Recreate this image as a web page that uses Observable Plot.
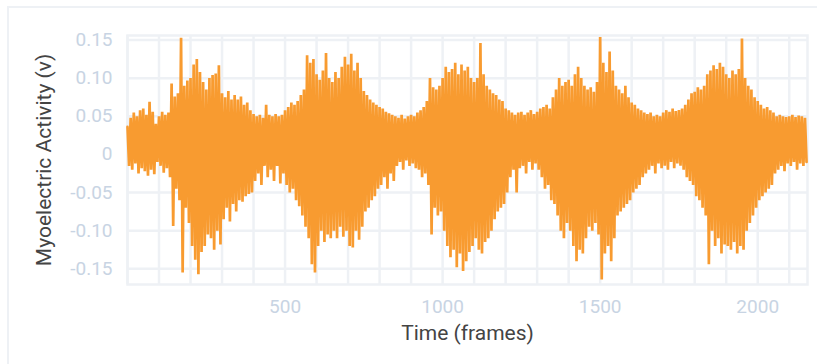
<!DOCTYPE html>
<html>
<head>
<meta charset="utf-8">
<script src="https://cdn.jsdelivr.net/npm/d3@7"></script>
<script src="https://cdn.jsdelivr.net/npm/@observablehq/plot@0.6"></script>
<style>
  html, body { margin: 0; padding: 0; background: #fff; }
  #wrap { position: relative; width: 817px; height: 364px; overflow: hidden; }
  #card { position: absolute; left: 7px; top: 6px; width: 830px; height: 380px; border: 2px solid #eef1f5; box-sizing: border-box; }
  #chart { position: absolute; left: 0; top: 0; }
</style>
</head>
<body>
<div id="wrap"><div id="card"></div><div id="chart"></div></div>
<script>
const emg = [
  0.036, -0.015, 0.048, -0.02, 0.055, -0.012, 0.05, -0.025, 0.058, -0.018,
  0.06, -0.022, 0.052, -0.028, 0.069, -0.02, 0.056, -0.026, 0.04, -0.01,
  0.05, -0.015, 0.056, -0.024, 0.052, -0.018, 0.055, -0.03, 0.093, -0.094,
  0.076, -0.045, 0.08, -0.06, 0.153, -0.155, 0.09, -0.07, 0.097, -0.09,
  0.1, -0.12, 0.118, -0.138, 0.125, -0.157, 0.108, -0.128, 0.095, -0.12,
  0.085, -0.105, 0.1, -0.11, 0.104, -0.125, 0.106, -0.1, 0.117, -0.118,
  0.08, -0.085, 0.075, -0.07, 0.083, -0.088, 0.072, -0.065, 0.078, -0.075,
  0.072, -0.06, 0.076, -0.062, 0.065, -0.055, 0.068, -0.052, 0.058, -0.05,
  0.053, -0.035, 0.05, -0.025, 0.052, -0.04, 0.048, -0.015, 0.065, -0.03,
  0.052, -0.02, 0.05, -0.035, 0.053, -0.015, 0.05, -0.038, 0.052, -0.025,
  0.058, -0.04, 0.062, -0.05, 0.068, -0.045, 0.065, -0.06, 0.07, -0.068,
  0.078, -0.08, 0.085, -0.095, 0.13, -0.11, 0.12, -0.144, 0.125, -0.155,
  0.105, -0.12, 0.098, -0.1, 0.11, -0.115, 0.133, -0.105, 0.1, -0.11,
  0.095, -0.1, 0.108, -0.11, 0.1, -0.095, 0.115, -0.108, 0.128, -0.1,
  0.118, -0.12, 0.132, -0.122, 0.11, -0.1, 0.12, -0.112, 0.1, -0.095,
  0.083, -0.075, 0.078, -0.07, 0.072, -0.06, 0.068, -0.055, 0.065, -0.045,
  0.062, -0.04, 0.06, -0.03, 0.056, -0.045, 0.054, -0.025, 0.052, -0.035,
  0.05, -0.015, 0.048, -0.01, 0.052, -0.02, 0.047, -0.008, 0.05, -0.015,
  0.052, -0.012, 0.05, -0.018, 0.055, -0.02, 0.058, -0.03, 0.062, -0.025,
  0.07, -0.04, 0.1, -0.105, 0.088, -0.07, 0.085, -0.08, 0.09, -0.075,
  0.1, -0.1, 0.115, -0.12, 0.108, -0.135, 0.112, -0.125, 0.12, -0.148,
  0.105, -0.13, 0.118, -0.153, 0.11, -0.14, 0.115, -0.128, 0.1, -0.12,
  0.095, -0.11, 0.1, -0.125, 0.146, -0.13, 0.105, -0.115, 0.09, -0.11,
  0.085, -0.1, 0.08, -0.085, 0.078, -0.075, 0.072, -0.07, 0.07, -0.065,
  0.06, -0.05, 0.058, -0.03, 0.055, -0.02, 0.052, -0.05, 0.055, -0.018,
  0.056, -0.015, 0.052, -0.025, 0.055, -0.01, 0.058, -0.02, 0.053, -0.012,
  0.056, -0.02, 0.06, -0.03, 0.062, -0.045, 0.065, -0.04, 0.06, -0.06,
  0.075, -0.065, 0.085, -0.08, 0.1, -0.1, 0.09, -0.11, 0.095, -0.09,
  0.098, -0.1, 0.09, -0.12, 0.105, -0.14, 0.115, -0.125, 0.1, -0.13,
  0.09, -0.11, 0.085, -0.095, 0.088, -0.1, 0.082, -0.09, 0.095, -0.105,
  0.154, -0.164, 0.12, -0.13, 0.108, -0.12, 0.135, -0.14, 0.11, -0.11,
  0.09, -0.08, 0.085, -0.075, 0.08, -0.07, 0.09, -0.065, 0.075, -0.06,
  0.068, -0.05, 0.065, -0.045, 0.06, -0.04, 0.058, -0.03, 0.055, -0.025,
  0.053, -0.02, 0.055, -0.015, 0.05, -0.025, 0.052, -0.012, 0.05, -0.018,
  0.055, -0.015, 0.058, -0.02, 0.056, -0.01, 0.06, -0.018, 0.057, -0.012,
  0.058, -0.015, 0.06, -0.02, 0.065, -0.03, 0.072, -0.035, 0.08, -0.04,
  0.082, -0.055, 0.088, -0.06, 0.085, -0.07, 0.09, -0.08, 0.105, -0.144,
  0.11, -0.1, 0.117, -0.12, 0.112, -0.11, 0.12, -0.13, 0.115, -0.118,
  0.105, -0.12, 0.1, -0.125, 0.11, -0.115, 0.105, -0.13, 0.112, -0.12,
  0.152, -0.125, 0.1, -0.1, 0.09, -0.09, 0.085, -0.08, 0.075, -0.07,
  0.07, -0.06, 0.065, -0.055, 0.06, -0.05, 0.062, -0.045, 0.058, -0.04,
  0.055, -0.025, 0.05, -0.02, 0.052, -0.015, 0.05, -0.022, 0.049, -0.012,
  0.05, -0.015, 0.052, -0.01, 0.049, -0.02, 0.051, -0.012, 0.05, -0.015,
  0.048, -0.01
];
const frameStep = 5;
const xTicks = [500, 1000, 1500, 2000];
const xGrid = [0, 100, 200, 300, 400, 500, 600, 700, 800, 900, 1000, 1100, 1200, 1300, 1400, 1500, 1600, 1700, 1800, 1900, 2000, 2100];
const yTicks = [-0.15, -0.10, -0.05, 0, 0.05, 0.10, 0.15];
const xDomain = [0, 2158];
const yDomain = [-0.1706, 0.1559];
const xTitle = "Time (frames)";
const yTitle = "Myoelectric Activity (v)";

const data = emg.map((v, i) => ({frame: i * frameStep, v}));
const gridColor = "#eef1f5";
const tickColor = "#c8d4e3";

const chart = Plot.plot({
  width: 817,
  height: 364,
  marginLeft: 127,
  marginRight: 10,
  marginTop: 35,
  marginBottom: 80,
  style: {fontFamily: "Roboto, sans-serif", background: "transparent"},
  x: {domain: xDomain, axis: null},
  y: {domain: yDomain, axis: null},
  marks: [
    Plot.ruleX(xGrid, {stroke: gridColor, strokeWidth: 2.5}),
    Plot.ruleY(yTicks, {stroke: gridColor, strokeWidth: 2.5}),
    Plot.frame({stroke: gridColor, strokeWidth: 2.5}),
    Plot.lineY(data, {x: "frame", y: "v", stroke: "#f89b30", strokeWidth: 2.7, strokeLinejoin: "miter", strokeMiterlimit: 1.2}),
    Plot.axisX(xTicks, {tickSize: 0, tickPadding: 15, fontSize: 19, fill: tickColor, label: null,
      tickFormat: d => String(d)}),
    Plot.axisY(yTicks, {tickSize: 0, tickPadding: 15, fontSize: 19, fill: tickColor, label: null,
      tickFormat: d => d === 0 ? "0" : d.toFixed(2)}),
    Plot.text([xTitle], {frameAnchor: "bottom", lineAnchor: "middle", textAnchor: "middle", dy: 49, fontSize: 21, fill: "#444"}),
    Plot.text([yTitle], {frameAnchor: "left", lineAnchor: "middle", textAnchor: "middle", dx: -83, rotate: -90, fontSize: 21, fill: "#444"})
  ]
});
document.getElementById("chart").appendChild(chart);
</script>
</body>
</html>
